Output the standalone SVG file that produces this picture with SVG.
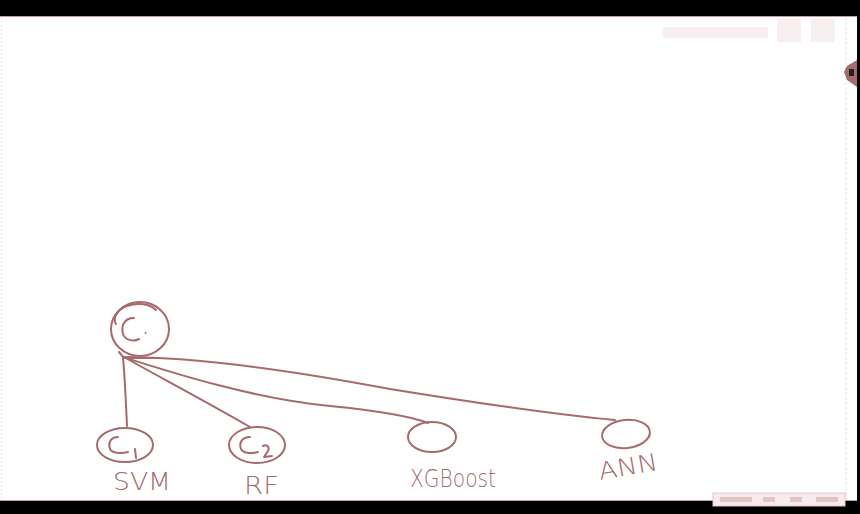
<svg xmlns="http://www.w3.org/2000/svg" width="860" height="514" viewBox="0 0 860 514">
<style>
.ink{fill:none;stroke:#a66a6c;stroke-width:2;stroke-linecap:round;stroke-linejoin:round}
.lbl{font-family:"DejaVu Sans","Liberation Sans",sans-serif;fill:#a66a6c;font-size:24px;font-weight:300}
.faint{fill:#f8eff1}
</style>
<rect x="0" y="0" width="860" height="514" fill="#ffffff"/>
<rect x="0" y="0" width="860" height="16" fill="#000000"/>
<line x1="0" y1="16.5" x2="857" y2="16.5" stroke="#c89a9c" stroke-width="1"/>
<rect x="0" y="501" width="860" height="13" fill="#000000"/>
<line x1="0" y1="500.5" x2="857" y2="500.5" stroke="#c89a9c" stroke-width="1"/>
<rect x="857" y="0" width="3" height="514" fill="#000000"/>
<line x1="846" y1="17" x2="846" y2="500" stroke="#eedcdf" stroke-width="1" stroke-dasharray="3 2"/>
<line x1="1.5" y1="17" x2="1.5" y2="500" stroke="#f3e3e6" stroke-width="1" stroke-dasharray="2 2"/>
<!-- watermark -->
<g id="watermark">
<rect x="663" y="27" width="105" height="11" class="faint"/>
<rect x="777" y="19" width="24" height="23" class="faint"/>
<rect x="811" y="19" width="24" height="23" class="faint"/>
</g>
<!-- side tab -->
<g id="sidetab">
<polygon points="857,60 847,66 844,72 847,80 857,87" fill="#a66a6c"/>
<rect x="849" y="69" width="5" height="7" fill="#222"/>
</g>
<!-- toolbar -->
<g id="toolbar">
<rect x="713" y="493" width="132" height="13" fill="#f6eaec" stroke="#e2c8cb" stroke-width="1"/>
<rect x="720" y="497" width="32" height="5" fill="#e0c6c9"/>
<rect x="763" y="497" width="12" height="5" fill="#e0c6c9"/>
<rect x="790" y="497" width="12" height="5" fill="#e0c6c9"/>
<rect x="816" y="497" width="22" height="5" fill="#e0c6c9"/>
</g>
<g id="connectors">
<path class="ink" d="M123,357 C125,380 126,405 127,426"/>
<path class="ink" d="M124,357 C150,372 200,398 250,427"/>
<path class="ink" d="M123,357 C170,372 250,398 330,406 C380,411 410,416 428,423"/>
<path class="ink" d="M123,357 C200,357 300,372 390,389 C470,402 550,414 615,420"/>
<path class="ink" d="M119,352 L124,358 L160,358"/>
</g>
<g id="node-c">
<ellipse class="ink" cx="140" cy="329" rx="29" ry="27"/>
<path class="ink" d="M116,324 C112,318 118,309 127,306 C138,302 150,304 156,310"/>
<path class="ink" d="M134,318 C124,318 121,326 123,334 C125,340 133,342 139,339"/>
<circle cx="145.5" cy="333" r="1" fill="#a66a6c"/>
</g>
<g id="node-c1">
<ellipse class="ink" cx="125" cy="445" rx="28" ry="17"/>
<path class="ink" d="M118,437 C110,437 108,444 110,449 C112,453 120,454 128,452"/>
<line class="ink" x1="135" y1="449" x2="136" y2="458"/>
<text class="lbl" x="113" y="490" textLength="58" lengthAdjust="spacingAndGlyphs">SVM</text>
</g>
<g id="node-c2">
<ellipse class="ink" cx="257" cy="445" rx="28" ry="18"/>
<path class="ink" d="M250,437 C241,437 239,444 241,449 C243,453 250,454 258,452"/>
<path class="ink" d="M263,446 C267,444 270,447 268,451 L264,457 L272,456"/>
<text class="lbl" x="244" y="494" textLength="35" lengthAdjust="spacingAndGlyphs">RF</text>
</g>
<g id="node-xgboost">
<ellipse class="ink" cx="432" cy="437" rx="24" ry="15"/>
<text class="lbl" x="410" y="487" textLength="86" lengthAdjust="spacingAndGlyphs">XGBoost</text>
</g>
<g id="node-ann">
<ellipse class="ink" cx="626" cy="434" rx="24" ry="14" transform="rotate(-6 626 434)"/>
<text class="lbl" x="600" y="480" textLength="60" lengthAdjust="spacingAndGlyphs" transform="rotate(-10 600 480)">ANN</text>
</g>
</svg>
